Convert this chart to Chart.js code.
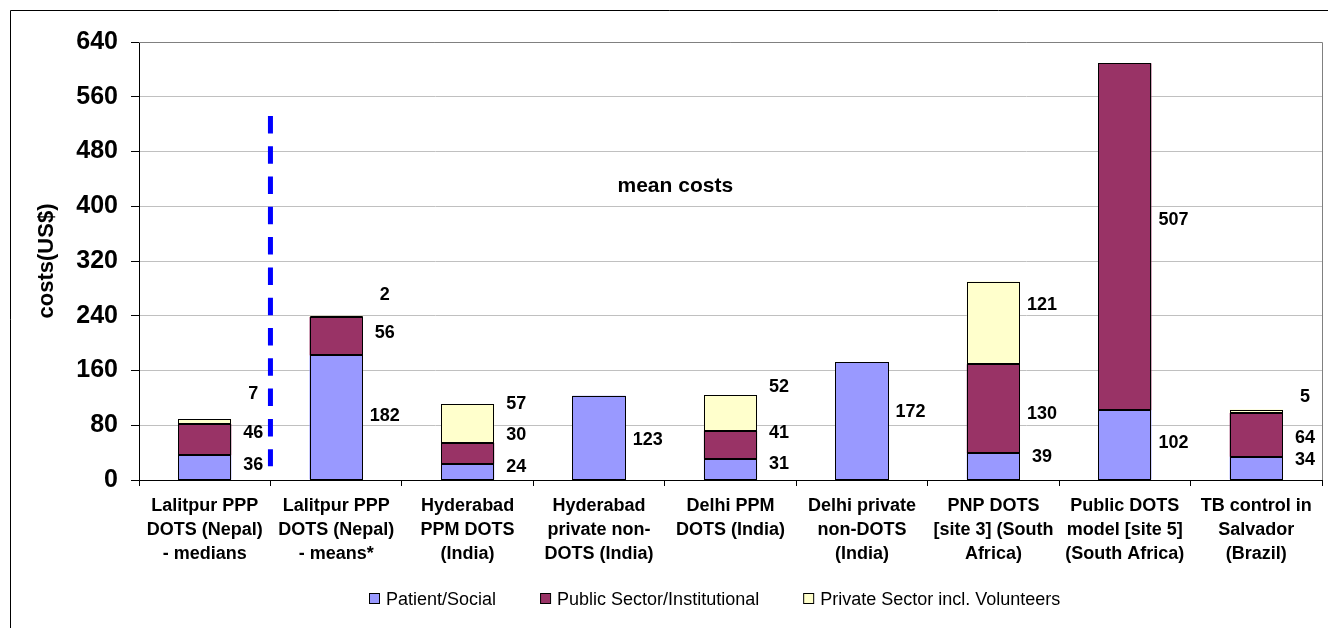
<!DOCTYPE html>
<html><head><meta charset="utf-8">
<script src="https://cdn.jsdelivr.net/npm/chart.js@4/dist/chart.umd.min.js"></script>
<style>html,body{margin:0;padding:0;background:#fff}#wrap{width:1328px;height:628px}</style>
</head><body><div id="wrap"><canvas id="c" width="1328" height="628"></canvas></div>
<script>
const categories = [
  ['Lalitpur PPP','DOTS (Nepal)','- medians'],
  ['Lalitpur PPP','DOTS (Nepal)','- means*'],
  ['Hyderabad','PPM DOTS','(India)'],
  ['Hyderabad','private non-','DOTS (India)'],
  ['Delhi PPM','DOTS (India)'],
  ['Delhi private','non-DOTS','(India)'],
  ['PNP DOTS','[site 3] (South','Africa)'],
  ['Public DOTS','model [site 5]','(South Africa)'],
  ['TB control in','Salvador','(Brazil)']
];
const seriesNames = ['Patient/Social','Public Sector/Institutional','Private Sector incl. Volunteers'];
const patientSocial = [36,182,24,123,31,172,39,102,34];
const publicSector  = [46,56,30,0,41,0,130,507,64];
const privateSector = [7,2,57,0,52,0,121,0,5];
const yMin = 0, yMax = 640, yStep = 80;
const annotationText = 'mean costs';
const annotationAt = {category: 3.58, value: 430};
const dividerAt = {between: [0,1], from: 20, to: 532};

// label vertical nudges (pixels), per series
const patientShift = [-2,-1,-5,2,-5,-9,-9,-2,-8];
const publicShift  = [-7,-3,-18,0,-12,0,5,-17,3];
const privateShift = [-27,-21,-20,0,-26,0,-18,0,-14];

const FONT = "'Liberation Sans', Arial, Helvetica, sans-serif";
Chart.defaults.font.family = FONT;
Chart.defaults.color = '#000';

const colors = ['#9999FF','#993366','#FFFFCC'];
const seriesData = [patientSocial, publicSector, privateSector];
const shifts = [patientShift, publicShift, privateShift];

const framePlugin = {
  id:'frame',
  beforeDraw(chart){
    const c = chart.ctx;
    c.save(); c.fillStyle='#fff'; c.fillRect(0,0,chart.width,chart.height); c.restore();
  },
  afterDraw(chart){
    const c = chart.ctx, a = chart.chartArea;
    c.save();
    c.strokeStyle='#808080'; c.lineWidth=1;
    c.beginPath();
    c.moveTo(a.left, Math.round(a.top)+0.5); c.lineTo(Math.round(a.right)+0.5, Math.round(a.top)+0.5);
    c.lineTo(Math.round(a.right)+0.5, a.bottom);
    c.stroke();
    c.strokeStyle='#000';
    c.beginPath();
    c.moveTo(10.5, chart.height); c.lineTo(10.5, 10.5); c.lineTo(chart.width, 10.5);
    c.stroke();
    // legend
    c.font = '18px ' + FONT;
    c.textBaseline='middle'; c.textAlign='left';
    let x = a.left + 230; const y = 599;
    seriesNames.forEach((n,i)=>{
      c.fillStyle = colors[i]; c.fillRect(x+0.5, y-5.5, 10, 10);
      c.strokeStyle='#000'; c.strokeRect(x+0.5, y-5.5, 10, 10);
      c.fillStyle='#000'; c.fillText(n, x+17, y+1);
      x += 17 + c.measureText(n).width + 44;
    });
    c.restore();
  },
  afterDatasetsDraw(chart){
    const c = chart.ctx, xs = chart.scales.x, ys = chart.scales.y;
    c.save();
    // crisp bar outlines
    c.strokeStyle='#000'; c.lineWidth=1;
    seriesData.forEach((arr,d)=>{
      chart.getDatasetMeta(d).data.forEach((bar,i)=>{
        if(!arr[i]) return;
        const p = bar.getProps(['x','y','base','width'], true);
        const l = Math.round(p.x - p.width/2)+0.5, r = Math.round(p.x + p.width/2)-0.5;
        const t = Math.round(Math.min(p.y,p.base))+0.5, b = Math.round(Math.max(p.y,p.base))-0.5;
        c.strokeRect(l, t, r-l, Math.max(b-t,0));
      });
    });
    // value labels
    c.font = 'bold 18px ' + FONT; c.fillStyle='#000';
    c.textAlign='center'; c.textBaseline='middle';
    seriesData.forEach((arr,d)=>{
      chart.getDatasetMeta(d).data.forEach((bar,i)=>{
        const v = arr[i]; if(!v) return;
        const p = bar.getProps(['x','y','base','width'], true);
        c.fillText(String(v), p.x + p.width/2 + 22, (p.y+p.base)/2 + shifts[d][i]);
      });
    });
    // divider
    const dx = (xs.getPixelForValue(dividerAt.between[0]) + xs.getPixelForValue(dividerAt.between[1]))/2;
    c.strokeStyle='#0000FF'; c.lineWidth=5; c.setLineDash([17.5,12.8]);
    c.beginPath(); c.moveTo(dx, ys.getPixelForValue(dividerAt.to)); c.lineTo(dx, ys.getPixelForValue(dividerAt.from)); c.stroke();
    c.setLineDash([]);
    // annotation
    c.font = 'bold 21px ' + FONT;
    c.fillText(annotationText, xs.getPixelForValue(annotationAt.category), ys.getPixelForValue(annotationAt.value));
    c.restore();
  }
};

new Chart(document.getElementById('c'), {
  type:'bar',
  data:{
    labels: categories,
    datasets: seriesData.map((arr,i)=>({
      label: seriesNames[i],
      data: arr.map(v=>v||null),
      backgroundColor: colors[i],
      borderWidth:0, inflateAmount:0
    }))
  },
  options:{
    responsive:false, animation:false, devicePixelRatio:1,
    layout:{padding:{top:42,right:6,left:0,bottom:0}},
    plugins:{legend:{display:false}, tooltip:{enabled:false}},
    datasets:{bar:{categoryPercentage:1, barPercentage:0.405}},
    scales:{
      x:{
        stacked:true,
        grid:{offset:true, drawOnChartArea:false, drawTicks:true, tickLength:6, tickColor:'#000', tickWidth:1},
        border:{color:'#000', width:1},
        ticks:{color:'#000', font:{size:18, weight:'bold', lineHeight:'24px'}, padding:8, maxRotation:0, minRotation:0, autoSkip:false},
        afterFit(s){ s.height = 148; }
      },
      y:{
        stacked:true, min:yMin, max:yMax,
        ticks:{stepSize:yStep, color:'#000', font:{size:25, weight:'bold'}, padding:13},
        grid:{color:'#c0c0c0', tickLength:8, tickColor:'#000', lineWidth:1},
        border:{color:'#000', width:1},
        title:{display:true, text:'costs(US$)', color:'#000', font:{size:22, weight:'bold'}, padding:{top:34,bottom:0}},
        afterFit(s){ s.width = 139; }
      }
    }
  },
  plugins:[framePlugin]
});
</script></body></html>
